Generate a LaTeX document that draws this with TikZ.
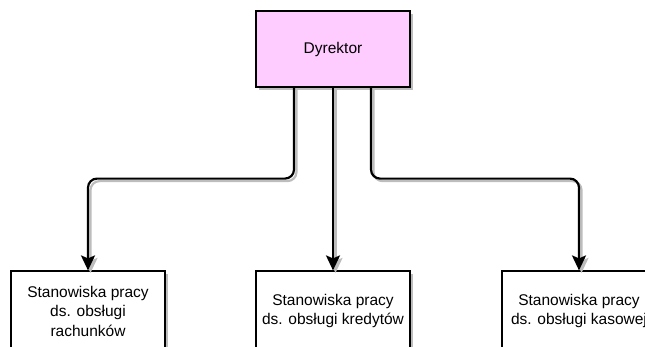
\documentclass[tikz,border=0pt]{standalone}
\usepackage{fontspec}
\setmainfont{Liberation Sans}
\usetikzlibrary{arrows.meta,shadows}
\definecolor{dyrpink}{HTML}{FFCCFF}
\definecolor{shadowgray}{HTML}{BDBDBD}
\tikzset{
  box/.style={draw=black, line width=1.2pt, fill=white, minimum width=154pt, minimum height=80pt,
    inner sep=0pt, align=center, font=\fontsize{15.5}{19.5}\selectfont,
    drop shadow={shadow xshift=3pt, shadow yshift=-3pt, fill=shadowgray, opacity=1}},
  conn/.style={line width=2.2pt, rounded corners=9pt, -{Stealth[length=15pt,width=14pt,inset=3pt]},
    preaction={draw=shadowgray, line width=2.2pt, transform canvas={shift={(2.5pt,-2.5pt)}}}}
}
\begin{document}
\begin{tikzpicture}[x=1pt,y=-1pt]
\useasboundingbox (0,0) rectangle (645,346);
\clip (0,0) rectangle (645,346);
\node[box, fill=dyrpink, minimum height=76pt] (dyr) at (333,49) {Dyrektor};
\node[box] (a) at (88,311) {Stanowiska pracy\\ds. obsługi\\rachunków};
\node[box] (b) at (333,311) {Stanowiska pracy\\ds. obsługi kredytów};
\node[box] (c) at (579,311) {Stanowiska pracy\\ds. obsługi kasowej};
\draw[conn] ([xshift=-39pt]dyr.south) -- ++(0,91) -| (a.north);
\draw[conn] (dyr.south) -- (b.north);
\draw[conn] ([xshift=38pt]dyr.south) -- ++(0,91) -| (c.north);
\end{tikzpicture}
\end{document}
